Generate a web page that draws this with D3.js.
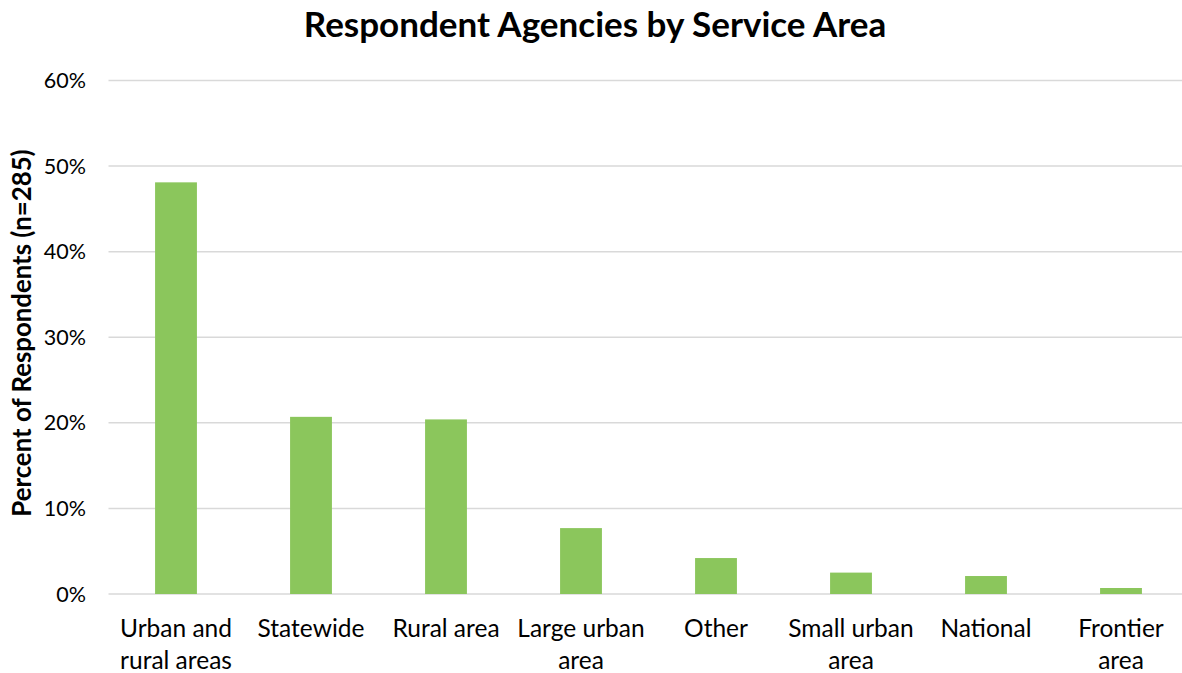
<!DOCTYPE html>
<html>
<head>
<meta charset="utf-8">
<script src="https://cdn.jsdelivr.net/npm/d3@7"></script>
<style>
  html, body { margin: 0; padding: 0; background: #fff; }
  svg { display: block; font-family: Lato, "Open Sans", sans-serif; }
</style>
</head>
<body>
<svg id="chart" width="1182" height="673"></svg>
<script>
// Service area categories (two-line labels) and share of respondents (%)
const categories = [
  ["Urban and", "rural areas"],
  ["Statewide"],
  ["Rural area"],
  ["Large urban", "area"],
  ["Other"],
  ["Small urban", "area"],
  ["National"],
  ["Frontier", "area"]
];
const percents = [48.1, 20.7, 20.4, 7.7, 4.2, 2.5, 2.1, 0.7];
const yTicks = [0, 10, 20, 30, 40, 50, 60];

const titleText = "Respondent Agencies by Service Area";
const yAxisTitle = "Percent of Respondents (n=285)";

const svg = d3.select("#chart");
const W = 1182, H = 673;
const plot = { left: 108.5, right: 1188.5, top: 80.5, bottom: 594 };

const keys = categories.map((c, i) => i);
const x = d3.scaleBand()
  .domain(keys)
  .range([plot.left, plot.right])
  .paddingInner(0.69)
  .paddingOuter(0.345);

const y = d3.scaleLinear()
  .domain([0, 60])
  .range([plot.bottom, plot.top]);

// Horizontal gridlines
svg.append("g")
  .selectAll("line")
  .data(yTicks)
  .join("line")
  .attr("x1", plot.left)
  .attr("x2", W)
  .attr("y1", d => y(d))
  .attr("y2", d => y(d))
  .attr("stroke", "#d9d9d9")
  .attr("stroke-width", 1.5);

// Y tick labels
svg.append("g")
  .selectAll("text")
  .data(yTicks)
  .join("text")
  .attr("x", 86)
  .attr("y", d => y(d))
  .attr("dy", "0.35em")
  .attr("text-anchor", "end")
  .attr("font-size", 21.5)
  .attr("fill", "#000")
  .text(d => d + "%");

// Bars
svg.append("g")
  .selectAll("rect")
  .data(percents)
  .join("rect")
  .attr("x", (d, i) => x(i))
  .attr("width", x.bandwidth())
  .attr("y", d => y(d))
  .attr("height", d => y(0) - y(d))
  .attr("fill", "#8bc65c");

// Category labels
const lab = svg.append("g")
  .selectAll("text")
  .data(categories)
  .join("text")
  .attr("x", (d, i) => x(i) + x.bandwidth() / 2)
  .attr("y", 637)
  .attr("text-anchor", "middle")
  .attr("font-size", 24.5)
  .attr("fill", "#000");
lab.selectAll("tspan")
  .data(d => d)
  .join("tspan")
  .attr("x", function () { return this.parentNode.getAttribute("x"); })
  .attr("dy", (d, i) => i === 0 ? 0 : 32)
  .text(d => d);

// Title
svg.append("text")
  .attr("x", 595)
  .attr("y", 37)
  .attr("text-anchor", "middle")
  .attr("font-size", 35)
  .attr("font-weight", "bold")
  .attr("fill", "#000")
  .text(titleText);

// Y axis title
svg.append("text")
  .attr("transform", `translate(31, 333) rotate(-90)`)
  .attr("text-anchor", "middle")
  .attr("font-size", 25.8)
  .attr("font-weight", "bold")
  .attr("fill", "#000")
  .text(yAxisTitle);
</script>
</body>
</html>
